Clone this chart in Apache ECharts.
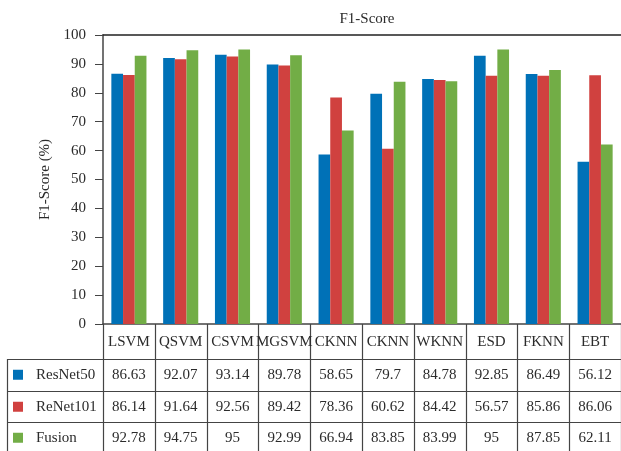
<!DOCTYPE html>
<html>
<head>
<meta charset="utf-8">
<script src="https://cdn.jsdelivr.net/npm/echarts@6/dist/echarts.min.js"></script>
<style>
  html, body { margin: 0; padding: 0; background: #fff; }
  #main { width: 621px; height: 451px; }
</style>
</head>
<body>
<div id="main"></div>
<script>
var categories = ['LSVM', 'QSVM', 'CSVM', 'MGSVM', 'CKNN', 'CKNN', 'WKNN', 'ESD', 'FKNN', 'EBT'];
var seriesNames = ['ResNet50', 'ReNet101', 'Fusion'];

// bar heights as drawn
var resnet50 = [86.63, 92.07, 93.14, 89.78, 58.65, 79.7, 84.78, 92.85, 86.49, 56.12];
var renet101 = [86.14, 91.64, 92.56, 89.42, 78.36, 60.62, 84.42, 85.9, 85.86, 86.06];
var fusion = [92.78, 94.75, 95, 92.99, 66.94, 83.85, 83.99, 95, 87.85, 62.11];

// numbers printed in the table (ESD / ReNet101 cell differs from its bar)
var resnet50Text = ['86.63', '92.07', '93.14', '89.78', '58.65', '79.7', '84.78', '92.85', '86.49', '56.12'];
var renet101Text = ['86.14', '91.64', '92.56', '89.42', '78.36', '60.62', '84.42', '56.57', '85.86', '86.06'];
var fusionText = ['92.78', '94.75', '95', '92.99', '66.94', '83.85', '83.99', '95', '87.85', '62.11'];

var colors = ['#0071b7', '#d0413f', '#72ad46'];
var font = 'Liberation Serif';
var textColor = '#2b2b2b';
var lineColor = '#444';

var myChart = echarts.init(document.getElementById('main'));

var values = [resnet50, renet101, fusion];
var option = {
  animation: false,
  textStyle: { fontFamily: font },
  title: {
    text: 'F1-Score',
    left: 362,
    top: 7,
    textAlign: 'center',
    textStyle: { fontFamily: font, fontSize: 15, fontWeight: 'normal', color: textColor }
  },
  grid: { left: 103, right: 0, top: 35, bottom: 127, containLabel: false },
  xAxis: [{
    type: 'category',
    data: categories,
    axisLine: { lineStyle: { color: lineColor, width: 1.5 } },
    axisTick: { show: false },
    axisLabel: { margin: 11, fontSize: 15, color: textColor, fontFamily: font, interval: 0 }
  }, {
    type: 'category',
    position: 'top',
    data: categories,
    axisLine: { lineStyle: { color: '#222', width: 1.5 } },
    axisTick: { show: false },
    axisLabel: { show: false }
  }],
  yAxis: {
    type: 'value',
    min: 0,
    max: 100,
    interval: 10,
    name: 'F1-Score (%)',
    nameLocation: 'middle',
    nameGap: 47,
    nameTextStyle: { fontFamily: font, fontSize: 15, color: textColor },
    axisLine: { show: true, lineStyle: { color: lineColor, width: 1.5 } },
    axisTick: { show: true, length: 8, lineStyle: { color: lineColor } },
    axisLabel: { margin: 17, fontSize: 15, color: textColor, fontFamily: font },
    splitLine: { show: false }
  },
  series: seriesNames.map(function (name, k) {
    return {
      name: name,
      type: 'bar',
      data: values[k],
      barWidth: 11.7,
      barGap: '0%',
      itemStyle: { color: colors[k] }
    };
  })
};
myChart.setOption(option);

// data table under the axis, placed from the category axis
var texts = [resnet50Text, renet101Text, fusionText];
var c0 = myChart.convertToPixel({ xAxisIndex: 0 }, 0);
var c1 = myChart.convertToPixel({ xAxisIndex: 0 }, 1);
var band = c1 - c0;
var axisY = myChart.convertToPixel({ yAxisIndex: 0 }, 0);
var rowTops = [359, 391, 422];
var rowH = 31.5;
var tableLeft = 7;
var tableRight = 621;
var bottom = 451;

var g = [];
function line(x1, y1, x2, y2) {
  g.push({
    type: 'line',
    shape: { x1: x1, y1: y1, x2: x2, y2: y2 },
    style: { stroke: lineColor, lineWidth: 1.2 },
    silent: true
  });
}
for (var i = 0; i <= categories.length; i++) {
  var bx = Math.round(c0 - band / 2 + i * band) + 0.5;
  line(bx, axisY, bx, bottom);
}
line(tableLeft + 0.5, rowTops[0], tableLeft + 0.5, bottom);
rowTops.forEach(function (y) { line(tableLeft, y + 0.5, tableRight, y + 0.5); });

seriesNames.forEach(function (name, k) {
  var cy = rowTops[k] + rowH / 2;
  g.push({
    type: 'rect',
    shape: { x: 13, y: cy - 5, width: 10, height: 10 },
    style: { fill: colors[k] },
    silent: true
  });
  g.push({
    type: 'text',
    x: 36, y: cy,
    style: { text: name, font: '15px "' + font + '"', fill: textColor, verticalAlign: 'middle' },
    silent: true
  });
  texts[k].forEach(function (t, i) {
    g.push({
      type: 'text',
      x: myChart.convertToPixel({ xAxisIndex: 0 }, i), y: cy,
      style: { text: t, font: '15px "' + font + '"', fill: textColor, align: 'center', verticalAlign: 'middle' },
      silent: true
    });
  });
});

myChart.setOption({ graphic: g });
</script>
</body>
</html>
